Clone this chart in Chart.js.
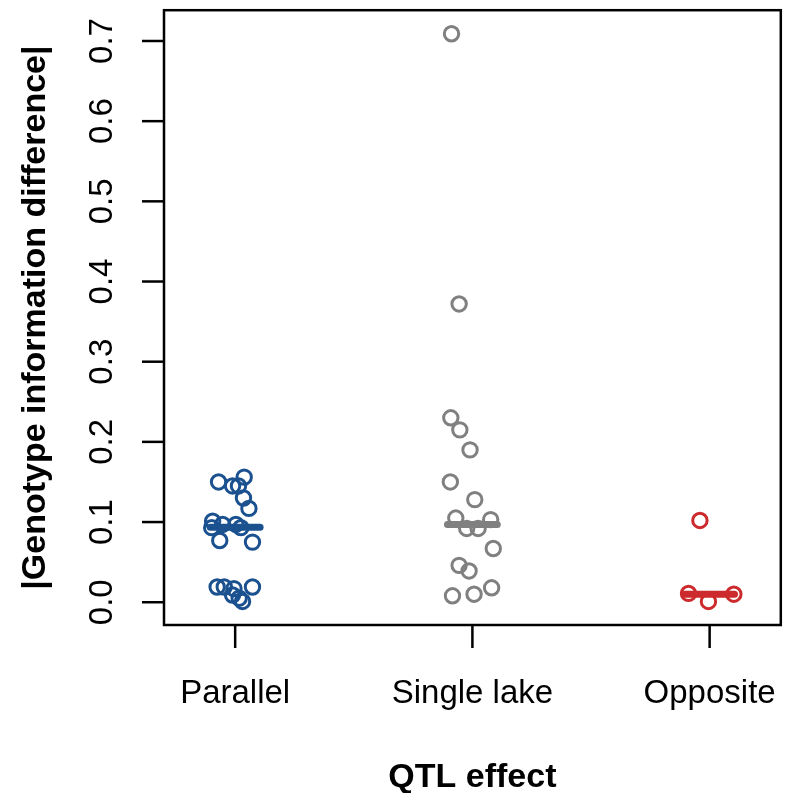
<!DOCTYPE html>
<html>
<head>
<meta charset="utf-8">
<script src="https://cdn.jsdelivr.net/npm/chart.js@4"></script>
<style>
  body { margin: 0; background: #fff; }
  #wrap { width: 791px; height: 793px; }
</style>
</head>
<body>
<div id="wrap"><canvas id="chart" width="791" height="793"></canvas></div>
<script>
// categories and tick labels
const categories = ["Parallel", "Single lake", "Opposite"];
const yTicks = [0, 0.1, 0.2, 0.3, 0.4, 0.5, 0.6, 0.7];

// jittered x positions and values
const parallelX = [0.930, 1.038, 0.989, 1.014, 1.035, 1.058, 0.905, 0.901, 0.947, 1.003,
                   1.024, 0.935, 1.073, 0.924, 0.954, 0.995, 1.073, 0.989, 1.017, 1.031];
const parallelY = [0.150, 0.156, 0.145, 0.145, 0.130, 0.117, 0.101, 0.093, 0.097, 0.097,
                   0.093, 0.077, 0.075, 0.019, 0.019, 0.017, 0.019, 0.009, 0.005, 0.001];

const singleX = [1.912, 1.944, 1.909, 1.947, 1.990, 1.907, 2.010, 1.930, 1.976, 2.024,
                 2.077, 2.088, 1.944, 1.986, 1.916, 2.007, 2.081];
const singleY = [0.709, 0.372, 0.230, 0.215, 0.190, 0.150, 0.128, 0.105, 0.092, 0.092,
                 0.103, 0.067, 0.046, 0.039, 0.008, 0.010, 0.018];

const oppositeX = [2.959, 2.911, 2.995, 3.102];
const oppositeY = [0.102, 0.011, 0.001, 0.010];

const medians = [0.0935, 0.097, 0.0098];

const colors = ["#1c5190", "#808080", "#cc2a2c"];
const medianHalf = 0.105;

function pts(xs, ys) {
    return xs.map((x, i) => ({ x: x, y: ys[i] }));
}

const groups = [pts(parallelX, parallelY), pts(singleX, singleY), pts(oppositeX, oppositeY)];

const datasets = [];
groups.forEach((g, i) => {
    datasets.push({
        type: "scatter",
        data: g,
        pointStyle: "circle",
        pointRadius: 7.2,
        pointBorderWidth: 3,
        pointBorderColor: colors[i],
        pointBackgroundColor: "rgba(0,0,0,0)",
        order: 2
    });
    datasets.push({
        type: "line",
        data: [{ x: i + 1 - medianHalf, y: medians[i] }, { x: i + 1 + medianHalf, y: medians[i] }],
        borderColor: colors[i],
        borderWidth: 7,
        borderCapStyle: "round",
        pointRadius: 0,
        order: 1
    });
});

const axesPlugin = {
    id: "rAxes",
    afterDraw(chart) {
        const ctx = chart.ctx;
        const a = chart.chartArea;
        const xs = chart.scales.x, ys = chart.scales.y;
        ctx.save();
        ctx.strokeStyle = "#000";
        ctx.lineWidth = 2.5;
        ctx.strokeRect(a.left, a.top, a.right - a.left, a.bottom - a.top);
        ctx.fillStyle = "#000";
        ctx.font = "33px 'Liberation Sans', Arial, sans-serif";

        // x ticks
        categories.forEach((c, i) => {
            const px = xs.getPixelForValue(i + 1);
            ctx.beginPath();
            ctx.moveTo(px, a.bottom);
            ctx.lineTo(px, a.bottom + 23);
            ctx.stroke();
            ctx.textAlign = "center";
            ctx.textBaseline = "alphabetic";
            ctx.fillText(c, px, 703);
        });

        // y ticks
        yTicks.forEach(v => {
            const py = ys.getPixelForValue(v);
            ctx.beginPath();
            ctx.moveTo(a.left, py);
            ctx.lineTo(a.left - 22, py);
            ctx.stroke();
            ctx.save();
            ctx.translate(112, py);
            ctx.rotate(-Math.PI / 2);
            ctx.textAlign = "center";
            ctx.textBaseline = "alphabetic";
            ctx.fillText(v.toFixed(1), 0, 0);
            ctx.restore();
        });

        // titles
        ctx.font = "bold 34px 'Liberation Sans', Arial, sans-serif";
        ctx.textAlign = "center";
        ctx.fillText("QTL effect", (a.left + a.right) / 2, 787);
        ctx.save();
        ctx.translate(45, (a.top + a.bottom) / 2);
        ctx.rotate(-Math.PI / 2);
        ctx.fillText("|Genotype information difference|", 0, 0);
        ctx.restore();
        ctx.restore();
    }
};

new Chart("chart", {
    type: "scatter",
    data: { datasets: datasets },
    options: {
        responsive: false,
        animation: false,
        layout: { padding: { left: 164, top: 4, right: 5, bottom: 168 } },
        plugins: { legend: { display: false }, tooltip: { enabled: false } },
        scales: {
            x: { type: "linear", min: 0.7, max: 3.3, display: false },
            y: { type: "linear", min: -0.0284, max: 0.7384, display: false }
        }
    },
    plugins: [axesPlugin]
});
</script>
</body>
</html>
